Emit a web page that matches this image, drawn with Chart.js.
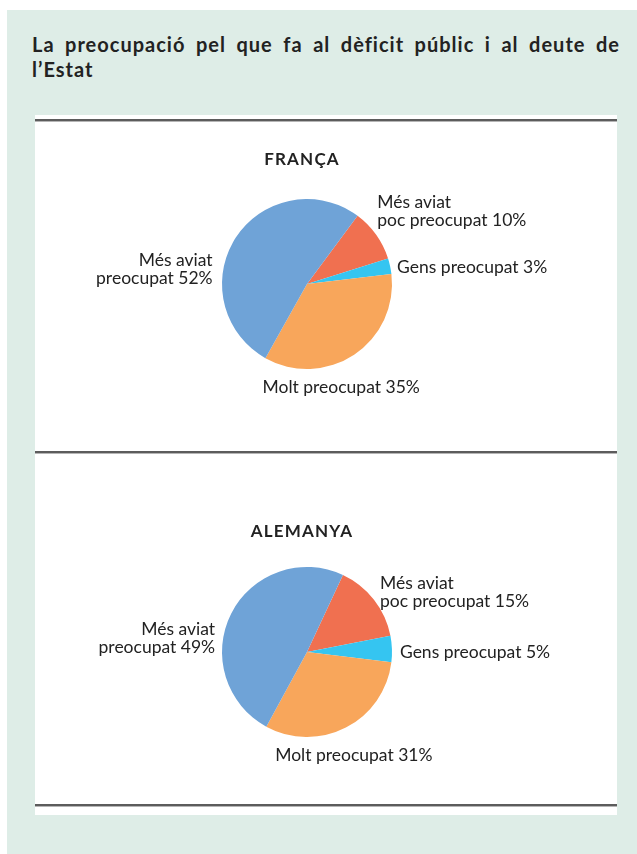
<!DOCTYPE html>
<html>
<head>
<meta charset="utf-8">
<script src="https://cdn.jsdelivr.net/npm/chart.js@4.4.1/dist/chart.umd.min.js"></script>
<style>
  body { margin: 0; background: #fff; width: 637px; height: 854px; overflow: hidden; font-family: Lato, 'Open Sans', sans-serif; }
  #frame { position: absolute; left: 7px; top: 10px; width: 630px; height: 844px; background: #deede7; }
  #title { position: absolute; left: 32px; top: 32px; width: 588px; margin: 0; font-size: 20px; font-weight: 700; letter-spacing: 1px; line-height: 25px; color: #222; }
  #title .l1 { display: block; text-align: justify; text-align-last: justify; }
  #panel { position: absolute; left: 35px; top: 115px; width: 582px; height: 700px; background: #fff; }
  .rule { position: absolute; left: 35px; width: 582px; height: 0; border-top: 2px solid #5c5c5c; border-bottom: 1px solid #b5b5b5; }
  canvas { position: absolute; left: 35px; }
</style>
</head>
<body>
<div id="frame"></div>
<p id="title"><span class="l1">La preocupació pel que fa al dèficit públic i al deute de</span>l’Estat</p>
<div id="panel"></div>
<canvas id="franca" width="582" height="332" style="top:120px"></canvas>
<canvas id="alemanya" width="582" height="353" style="top:452px"></canvas>
<div class="rule" style="top:119px"></div>
<div class="rule" style="top:451px"></div>
<div class="rule" style="top:804px"></div>
<script>
const categories = ['Més aviat poc preocupat', 'Gens preocupat', 'Molt preocupat', 'Més aviat preocupat'];
const labelLines = [['Més aviat', 'poc preocupat'], ['Gens preocupat'], ['Molt preocupat'], ['Més aviat', 'preocupat']];
const franceValues = [10, 3, 35, 52];
const germanyValues = [15, 5, 31, 49];
const sliceColors = ['#f07050', '#35c5f1', '#f8a65b', '#6fa3d7'];

// label placement: offset from the slice's outer mid point, text alignment
const franceLabelPos = [
    { dx: 1, dy: -27, align: 'left' },
    { dx: 7, dy: 7, align: 'left' },
    { dx: -13, dy: 38, align: 'center' },
    { dx: -23, dy: 28, align: 'right' }
];
const germanyLabelPos = [
    { dx: 6, dy: -11, align: 'left' },
    { dx: 8, dy: 9, align: 'left' },
    { dx: 8, dy: 33, align: 'center' },
    { dx: -16, dy: 21, align: 'right' }
];

const sliceLabels = {
    id: 'sliceLabels',
    afterDraw(chart, args, opts) {
        const ctx = chart.ctx;
        const values = chart.data.datasets[0].data;
        ctx.save();
        ctx.fillStyle = '#222';
        ctx.textBaseline = 'alphabetic';
        ctx.font = 'bold 17px Lato, sans-serif';
        ctx.letterSpacing = '1.2px';
        ctx.textAlign = 'center';
        ctx.fillText(opts.heading, opts.headingX, opts.headingY);
        ctx.font = '17.5px Lato, sans-serif';
        ctx.letterSpacing = '0px';
        chart.getDatasetMeta(0).data.forEach((arc, i) => {
            const p = arc.getProps(['x', 'y', 'startAngle', 'endAngle', 'outerRadius'], true);
            const mid = (p.startAngle + p.endAngle) / 2;
            const x = p.x + Math.cos(mid) * p.outerRadius + opts.pos[i].dx;
            let y = p.y + Math.sin(mid) * p.outerRadius + opts.pos[i].dy;
            const lines = labelLines[i].slice();
            lines[lines.length - 1] += ' ' + values[i] + '%';
            ctx.textAlign = opts.pos[i].align;
            lines.forEach(line => {
                ctx.fillText(line, x, y);
                y += 18;
            });
        });
        ctx.restore();
    }
};

function makePie(id, values, rotation, padding, heading, headingY, pos) {
    return new Chart(document.getElementById(id), {
        type: 'pie',
        data: {
            labels: categories,
            datasets: [{ data: values, backgroundColor: sliceColors, borderWidth: 0 }]
        },
        options: {
            responsive: false,
            animation: false,
            rotation: rotation,
            layout: { padding: padding },
            plugins: {
                legend: { display: false },
                tooltip: { enabled: false },
                sliceLabels: { heading: heading, headingX: 267, headingY: headingY, pos: pos }
            }
        },
        plugins: [sliceLabels]
    });
}

makePie('franca', franceValues, 36.5, { left: 187, right: 225, top: 79, bottom: 83 }, 'FRANÇA', 45, franceLabelPos);
makePie('alemanya', germanyValues, 25, { left: 187, right: 225, top: 115, bottom: 68 }, 'ALEMANYA', 85, germanyLabelPos);
</script>
</body>
</html>
